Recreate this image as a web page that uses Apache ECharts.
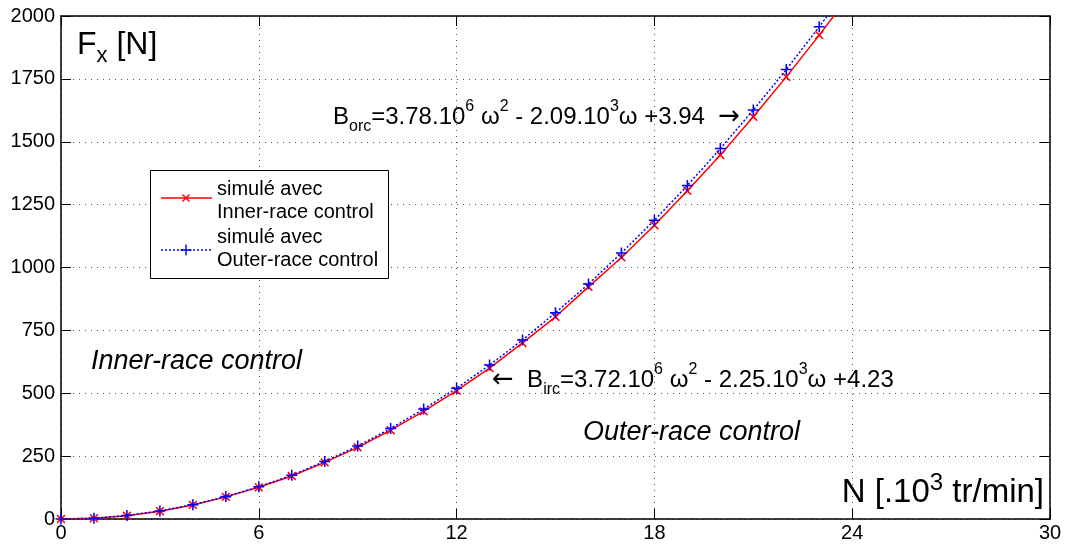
<!DOCTYPE html>
<html>
<head>
<meta charset="utf-8">
<script src="https://cdn.jsdelivr.net/npm/echarts@6/dist/echarts.min.js"></script>
<style>html,body{margin:0;padding:0;background:#fff}#c{width:1066px;height:548px}</style>
</head>
<body>
<div id="c"></div>
<script>
// N [10^3 tr/min]
const speedN = [0,1,2,3,4,5,6,7,8,9,10,11,12,13,14,15,16,17,18,19,20,21,22,23,24];
// simulated with inner-race control (red, x)
const innerRace = [0,3,13,31,56,88,126,171,225,285,353,428,510,600,700,804,923,1040,1168,1305,1447,1599,1758,1924,2096];
// simulated with outer-race control (blue, +)
const outerRace = [0,3,14,32,57,89,128,174,229,290,360,437,520,612,712,820,934,1058,1188,1326,1473,1626,1787,1957,2135];
const xTicks = [0,6,12,18,24,30];
const yTicks = [0,250,500,750,1000,1250,1500,1750,2000];
const legendNames = ['simulé avec\nInner-race control','simulé avec\nOuter-race control'];

const FONT = '"Liberation Sans", Arial, Helvetica, sans-serif';
const ARROWFONT = '"DejaVu Sans", sans-serif';
const plusPath = 'path://M4.3,0H5.7V4.3H10V5.7H5.7V10H4.3V5.7H0V4.3H4.3Z';

function mkData(ys){
  return speedN.map((x,i)=> i===speedN.length-1 ? {value:[x,ys[i]], symbol:'none'} : [x,ys[i]]);
}
function plusPts(r,w){
  return [[-w,-r],[w,-r],[w,-w],[r,-w],[r,w],[w,w],[w,r],[-w,r],[-w,w],[-r,w],[-r,-w],[-w,-w]];
}

const chart = echarts.init(document.getElementById('c'), null, {renderer:'canvas'});
const gridL=61, gridR=16, gridT=16, gridB=29;

const sup = {fontSize:16, lineHeight:16, verticalAlign:'top', fontFamily:FONT, color:'#000'};
const sub = {fontSize:16, lineHeight:12, verticalAlign:'bottom', fontFamily:FONT, color:'#000'};
const m = {fontSize:24, lineHeight:36, fontFamily:FONT, color:'#000'};
const ar = {fontSize:26, lineHeight:36, fontFamily:ARROWFONT, color:'#000'};

chart.setOption({
  animation:false,
  backgroundColor:'#fff',
  grid:{left:gridL,right:gridR,top:gridT,bottom:gridB},
  xAxis:[{
    type:'value', min:0, max:30, interval:6,
    axisLine:{show:true,onZero:false,lineStyle:{color:'#000',width:1.5}},
    axisTick:{show:true,inside:true,length:10,lineStyle:{color:'#000',width:1}},
    axisLabel:{color:'#000',fontSize:20,fontFamily:FONT,margin:4,
      formatter:v=> xTicks.includes(v)? String(v):''},
    splitLine:{show:true,lineStyle:{color:'#555',type:[1,5],width:1}}
  },{
    type:'value', min:0, max:30, interval:6, position:'top',
    axisLine:{show:true,onZero:false,lineStyle:{color:'#000',width:1.5}},
    axisTick:{show:true,inside:true,length:10,lineStyle:{color:'#000'}},
    axisLabel:{show:false}, splitLine:{show:false}
  }],
  yAxis:[{
    type:'value', min:0, max:2000, interval:250,
    axisLine:{show:true,onZero:false,lineStyle:{color:'#000',width:1.5}},
    axisTick:{show:true,inside:true,length:10,lineStyle:{color:'#000',width:1}},
    axisLabel:{color:'#000',fontSize:20,fontFamily:FONT,margin:6,
      formatter:v=> yTicks.includes(v)? String(v):''},
    splitLine:{show:true,lineStyle:{color:'#555',type:[1,5],width:1}}
  },{
    type:'value', min:0, max:2000, interval:250, position:'right',
    axisLine:{show:true,onZero:false,lineStyle:{color:'#000',width:1.5}},
    axisTick:{show:true,inside:true,length:10,lineStyle:{color:'#000'}},
    axisLabel:{show:false}, splitLine:{show:false}
  }],
  series:[{
    name:legendNames[0], type:'line', data:mkData(innerRace),
    symbol:plusPath, symbolRotate:45, symbolSize:11, showAllSymbol:true,
    lineStyle:{color:'#ff0000',width:1.5,type:'solid'},
    itemStyle:{color:'#ff0000'}, z:3, clip:true
  },{
    name:legendNames[1], type:'line', data:mkData(outerRace),
    symbol:plusPath, symbolSize:11, showAllSymbol:true,
    lineStyle:{color:'#0000ff',width:1.5,type:[2,2]},
    itemStyle:{color:'#0000ff'}, z:4, clip:true
  }],
  graphic:[
    // axis titles
    {type:'text', left:77, top:29, z:10, style:{
      text:'{a|F}{s|x}{a| [N]}',
      rich:{a:{fontSize:32,lineHeight:44,fontFamily:FONT,color:'#000'},
            s:{fontSize:22,lineHeight:16,verticalAlign:'bottom',fontFamily:FONT,color:'#000'}}}},
    {type:'text', right:22, top:471, z:10, style:{
      text:'{a|N [.10}{s|3}{a| tr/min]}',
      rich:{a:{fontSize:33,lineHeight:44,fontFamily:FONT,color:'#000'},
            s:{fontSize:24,lineHeight:26,verticalAlign:'top',fontFamily:FONT,color:'#000'}}}},
    // region labels
    {type:'text', left:91, top:348, z:10, style:{text:'Inner-race control', fontSize:27,
      fontStyle:'italic', fontFamily:FONT, fill:'#000'}},
    {type:'text', left:583, top:419, z:10, style:{text:'Outer-race control', fontSize:27,
      fontStyle:'italic', fontFamily:FONT, fill:'#000'}},
    // formulas
    {type:'text', left:333, top:99, z:10, style:{
      text:'{m|B}{b|orc}{m|=3.78.10}{p|6}{m| ω}{p|2}{m| - 2.09.10}{p|3}{m|ω +3.94  }{r|→}',
      rich:{m:m,p:sup,b:sub,r:ar}}},
    {type:'text', left:492, top:362, z:10, style:{
      text:'{r|←}{m|  B}{b|irc}{m|=3.72.10}{p|6}{m| ω}{p|2}{m| - 2.25.10}{p|3}{m|ω +4.23}',
      rich:{m:m,p:sup,b:sub,r:ar}}},
    // legend box
    {type:'rect', z:20, shape:{x:150.5,y:170.5,width:238,height:108},
      style:{fill:'#fff',stroke:'#000',lineWidth:1}},
    {type:'line', z:21, shape:{x1:161,y1:198,x2:212,y2:198}, style:{stroke:'#ff0000',lineWidth:1.5}},
    {type:'polygon', z:22, shape:{points:plusPts(5,0.7)}, x:186, y:198, rotation:Math.PI/4,
      style:{fill:'#ff0000'}},
    {type:'line', z:21, shape:{x1:161,y1:250,x2:212,y2:250}, style:{stroke:'#0000ff',lineWidth:1.5,lineDash:[2,2]}},
    {type:'polygon', z:22, shape:{points:plusPts(5.5,0.7)}, x:186, y:250,
      style:{fill:'#0000ff'}},
    {type:'text', z:21, left:217, top:178, style:{text:legendNames[0], fontSize:20, lineHeight:23,
      fontFamily:FONT, fill:'#000'}},
    {type:'text', z:21, left:217, top:226, style:{text:legendNames[1], fontSize:20, lineHeight:23,
      fontFamily:FONT, fill:'#000'}}
  ]
});
</script>
</body>
</html>
